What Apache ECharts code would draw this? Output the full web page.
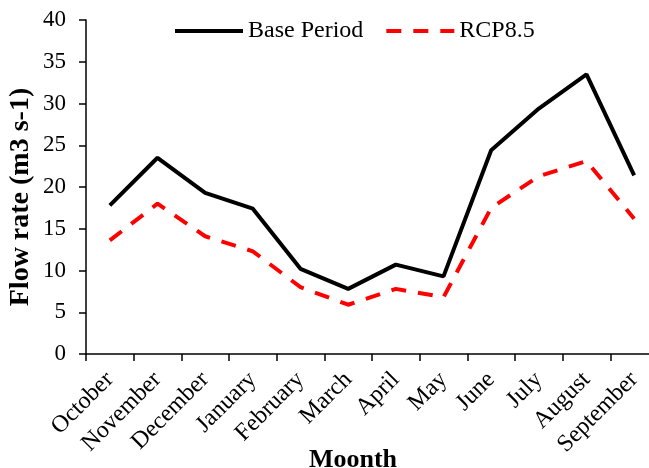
<!DOCTYPE html>
<html>
<head>
<meta charset="utf-8">
<script src="https://cdn.jsdelivr.net/npm/echarts@6/dist/echarts.min.js"></script>
<style>
  html, body { margin: 0; padding: 0; background: #fff; }
  #main { width: 649px; height: 468px; }
</style>
</head>
<body>
<div id="main"></div>
<script>
// monthly flow rate, base period vs RCP8.5
var months = ['October', 'November', 'December', 'January', 'February', 'March',
  'April', 'May', 'June', 'July', 'August', 'September'];
var basePeriod = [17.8, 23.5, 19.3, 17.4, 10.2, 7.8, 10.7, 9.3, 24.4, 29.4, 33.5, 21.4];
var rcp85 = [13.6, 18.0, 14.1, 12.3, 8.0, 5.9, 7.8, 6.8, 17.5, 21.3, 23.1, 16.2];
var yTicks = { min: 0, max: 40, interval: 5 };

var font = 'Liberation Serif, Times New Roman, serif';
var chart = echarts.init(document.getElementById('main'));

var option = {
  animation: false,
  backgroundColor: '#fff',
  textStyle: { fontFamily: font, color: '#000' },
  legend: {
    top: 14,
    left: 168,
    itemWidth: 68,
    itemHeight: 14,
    itemGap: 21,
    itemStyle: { opacity: 0 },
    lineStyle: { width: 4 },
    textStyle: { fontFamily: font, fontSize: 24, color: '#000' },
    data: ['Base Period', 'RCP8.5']
  },
  grid: { left: 86, width: 572, top: 20, height: 334, outerBoundsMode: 'none', containLabel: false },
  xAxis: {
    type: 'category',
    data: months,
    boundaryGap: true,
    name: 'Moonth',
    nameLocation: 'middle',
    nameGap: 93,
    nameMoveOverlap: false,
    nameTextStyle: { fontFamily: font, fontSize: 26, fontWeight: 'bold', color: '#000', padding: [0, 38, 0, 0] },
    axisLine: { lineStyle: { color: '#000', width: 1.5 } },
    axisTick: { show: true, length: 7, lineStyle: { color: '#000', width: 1.5 } },
    axisLabel: { rotate: 45, fontFamily: font, fontSize: 24, color: '#000', margin: 22, interval: 0 },
    splitLine: { show: false }
  },
  yAxis: {
    type: 'value',
    min: yTicks.min,
    max: yTicks.max,
    interval: yTicks.interval,
    name: 'Flow rate (m3 s-1)',
    nameLocation: 'middle',
    nameGap: 51,
    nameMoveOverlap: false,
    nameTextStyle: { fontFamily: font, fontSize: 28, fontWeight: 'bold', color: '#000', padding: [0, 20, 0, 0] },
    axisLine: { show: true, lineStyle: { color: '#000', width: 1.5 } },
    axisTick: { show: true, length: 7, lineStyle: { color: '#000', width: 1.5 } },
    axisLabel: { fontFamily: font, fontSize: 23, color: '#000', margin: 20 },
    splitLine: { show: false }
  },
  series: [
    {
      name: 'Base Period',
      type: 'line',
      data: basePeriod,
      symbol: 'none',
      lineStyle: { color: '#000', width: 4 },
      itemStyle: { color: '#000' }
    },
    {
      name: 'RCP8.5',
      type: 'line',
      data: rcp85,
      symbol: 'none',
      lineStyle: { color: '#ff0000', width: 4, type: [15, 12] },
      itemStyle: { color: '#ff0000' }
    }
  ]
};

chart.setOption(option);
</script>
</body>
</html>
